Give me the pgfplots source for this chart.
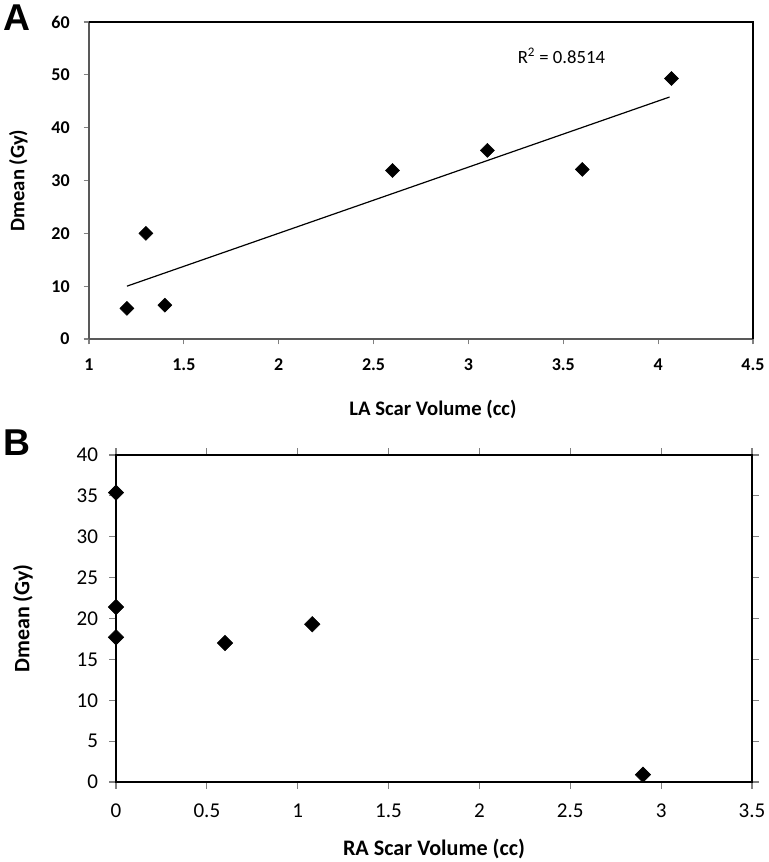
\documentclass[border=0pt]{standalone}
\usepackage{pgfplots}
\pgfplotsset{compat=1.18}
\usepackage{fontspec}
\setmainfont{Carlito}
\newfontfamily\arialfont{Liberation Sans}
\begin{document}
\begin{tikzpicture}
\useasboundingbox (0,0) rectangle (576pt,-646.5pt);
\node[font=\arialfont\bfseries\fontsize{28}{30}\selectfont, anchor=center] at (12.75pt,-13.5pt) {A};
\node[font=\arialfont\bfseries\fontsize{28}{30}\selectfont, anchor=center] at (12.5pt,-332pt) {B};
% Panel A
\begin{axis}[
  at={(66.75pt,-254.25pt)}, anchor=south west,
  scale only axis, width=498pt, height=237.75pt,
  xmin=1, xmax=4.5, ymin=0, ymax=60,
  xtick={1,1.5,...,4.5}, ytick={0,10,...,60},
  axis x line*=bottom, axis y line*=left,
  axis line style={-, draw=gray!70!black, line width=1.2pt},
  tick align=outside, major tick length=4pt,
  tick style={gray, line width=0.8pt},
  /pgf/number format/assume math mode=true,
  ticklabel style={font=\bfseries\fontsize{13.5}{15}\selectfont},
  xticklabel shift=7pt, yticklabel shift=7pt,
  xlabel={LA Scar Volume (cc)}, ylabel={Dmean (Gy)},
  xlabel style={font=\bfseries\fontsize{15.5}{17}\selectfont, at={([xshift=9pt,yshift=-53pt]axis description cs:0.5,0)}, anchor=center},
  ylabel style={font=\bfseries\fontsize{15.5}{17}\selectfont, at={([xshift=-53pt]axis description cs:0,0.5)}, anchor=center, rotate=0},
  clip=false,
]
\draw[black, line width=1.8pt] (rel axis cs:0,1) -- (rel axis cs:1,1) -- (rel axis cs:1,0);
\addplot[black, line width=0.9pt] coordinates {(1.2,10.0) (4.06,45.8)};
\addplot[only marks, mark=square*, mark options={rotate=45, fill=black, draw=black}, mark size=3.7pt] coordinates {
(1.2,5.8) (1.3,20.0) (1.4,6.4) (2.6,31.9) (3.1,35.7) (3.6,32.1) (4.07,49.3)};
\node[font=\fontsize{14}{16}\selectfont] at (axis cs:3.49,53.6) {R\textsuperscript{2} = 0.8514};
\end{axis}
% Panel B
\begin{axis}[
  at={(87pt,-586.5pt)}, anchor=south west,
  scale only axis, width=477pt, height=245.25pt,
  xmin=0, xmax=3.5, ymin=0, ymax=40,
  xtick={0,0.5,...,3.5}, ytick={0,5,...,40},
  axis line style={-, draw=black, line width=1.8pt},
  tick align=outside, major tick length=5pt,
  tick style={gray, line width=0.8pt},
  /pgf/number format/assume math mode=true,
  ticklabel style={font=\fontsize{15.8}{17}\selectfont},
  xticklabel shift=8pt, yticklabel shift=5pt,
  xlabel={RA Scar Volume (cc)}, ylabel={Dmean (Gy)},
  xlabel style={font=\bfseries\fontsize{16.6}{18}\selectfont, at={([yshift=-50.25pt]axis description cs:0.5,0)}, anchor=center},
  ylabel style={font=\bfseries\fontsize{16.5}{18}\selectfont, at={([xshift=-69.75pt]axis description cs:0,0.5)}, anchor=center, rotate=0},
  clip=false,
]
\addplot[only marks, mark=square*, mark options={rotate=45, fill=black, draw=black}, mark size=4.1pt] coordinates {
(0,35.4) (0,21.4) (0,17.7) (0.6,17.0) (1.08,19.3) (2.9,0.9)};
\end{axis}
\end{tikzpicture}
\end{document}
